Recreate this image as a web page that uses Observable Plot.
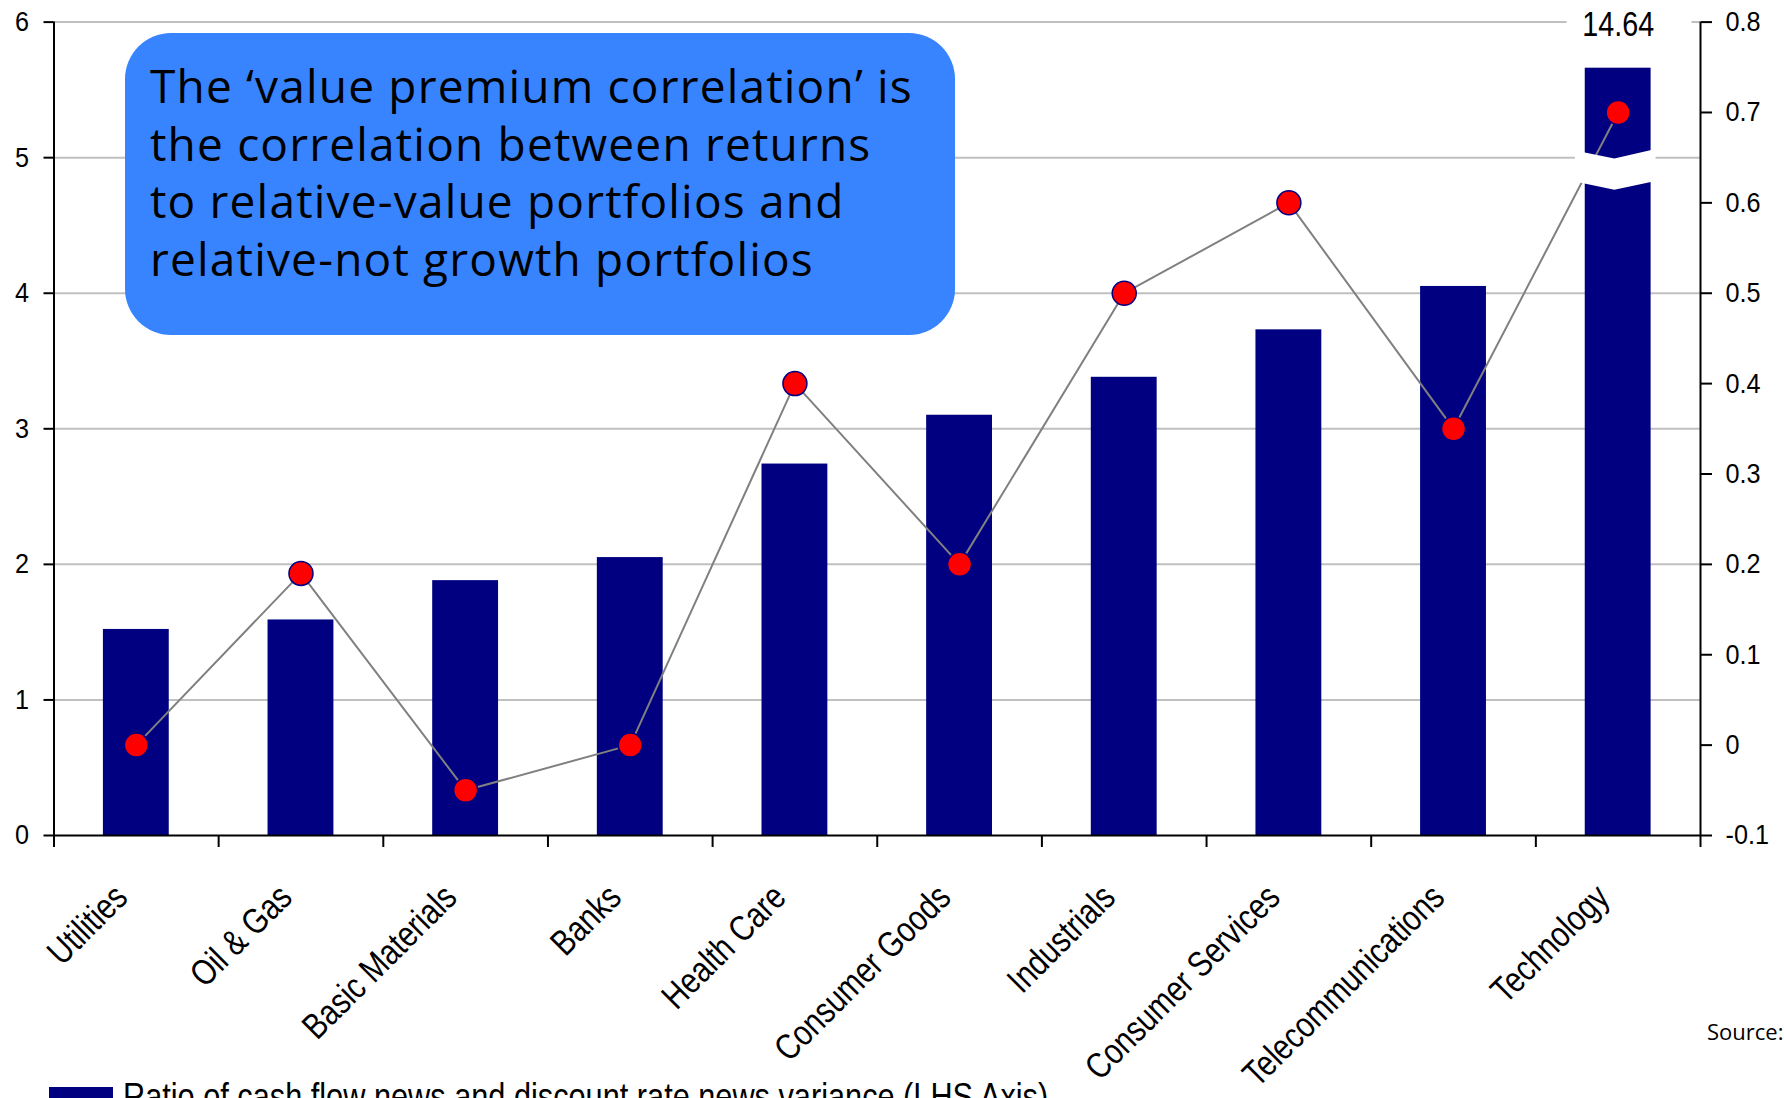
<!DOCTYPE html>
<html>
<head>
<meta charset="utf-8">
<script src="https://cdn.jsdelivr.net/npm/d3@7"></script>
<script src="https://cdn.jsdelivr.net/npm/@observablehq/plot@0.6"></script>
<style>
  html, body { margin: 0; padding: 0; background: #fff; width: 1784px; height: 1098px; overflow: hidden; }
  #wrap { position: relative; width: 1784px; height: 1098px; }
  #chart { position: absolute; left: 0; top: 0; }
  #note { position: absolute; left: 125px; top: 33px; width: 830px; height: 302px; background: #3884ff; border-radius: 46px; box-sizing: border-box; padding: 24px 0 0 25px; font-family: "Open Sans", "Noto Sans", sans-serif; font-size: 46px; line-height: 57.5px; color: #000; white-space: nowrap; }
  #legend { position: absolute; left: 49px; top: 1078px; height: 40px; }
  #legend .sw { position: absolute; left: 0; top: 9px; width: 64px; height: 24px; background: #000080; }
  #legend .lab { position: absolute; left: 74px; top: 0; font-family: "Liberation Sans", Arial, sans-serif; font-size: 37px; line-height: 37px; color: #000; white-space: nowrap; transform-origin: 0 0; }
  #source { position: absolute; left: 1707px; top: 1020px; font-family: "Open Sans", "Noto Sans", sans-serif; font-size: 22px; line-height: 22px; white-space: nowrap; color: #000; }
</style>
</head>
<body>
<div id="wrap">
  <div id="chart"></div>
  <div id="note"></div>
  <div id="legend"><div class="sw"></div><div class="lab"></div></div>
  <div id="source">Source:</div>
</div>
<script>
// ---- data ----
const categories = ["Utilities", "Oil & Gas", "Basic Materials", "Banks", "Health Care",
  "Consumer Goods", "Industrials", "Consumer Services", "Telecommunications", "Technology"];
// Ratio of cash flow news and discount rate news variance (LHS axis)
const varianceRatio = [1.52, 1.59, 1.88, 2.05, 2.74, 3.10, 3.38, 3.73, 4.05, 14.64];
// Value premium correlation (RHS axis)
const valuePremiumCorr = [0.0, 0.19, -0.05, 0.0, 0.40, 0.20, 0.50, 0.60, 0.35, 0.70];
const lhsTicks = [0, 1, 2, 3, 4, 5, 6];
const rhsTicks = [-0.1, 0, 0.1, 0.2, 0.3, 0.4, 0.5, 0.6, 0.7, 0.8];
const legendLabel = "Ratio of cash flow news and discount rate news variance (LHS Axis)";
const noteLines = [
  "The \u2018value premium correlation\u2019 is",
  "the correlation between returns",
  "to relative-value portfolios and",
  "relative-not growth portfolios"
];

// ---- dual axis mapping ----
const LHS_MIN = 0, LHS_MAX = 6, RHS_MIN = -0.1, RHS_MAX = 0.8;
const toLhs = v => LHS_MIN + (v - RHS_MIN) / (RHS_MAX - RHS_MIN) * (LHS_MAX - LHS_MIN);
const fromLhs = y => RHS_MIN + (y - LHS_MIN) / (LHS_MAX - LHS_MIN) * (RHS_MAX - RHS_MIN);

// broken-bar display settings (style)
const BAR_CAP = 5.66;
const BAR_HALF = 0.2;             // half bar width as fraction of category slot
const BREAK_X = [0.24, 0.48, 0.73];
const BREAK_TOP = [5.05, 4.99, 5.06];
const BREAK_BOT = [4.82, 4.76, 4.825];
const LABEL_GAP = [0.19, 0.948];  // white gap in top gridline behind the value label
const NARROW = 0.82;              // horizontal compression emulating a condensed face
const NARROW_TICKS = 0.9;

const rows = categories.map((c, i) => ({
  c, i, pos: i + 0.5,
  ratio: varianceRatio[i],
  shown: Math.min(varianceRatio[i], BAR_CAP),
  corr: valuePremiumCorr[i],
  corrL: toLhs(valuePremiumCorr[i])
}));
const broken = rows.filter(d => d.ratio > BAR_CAP);
const breakShape = broken.flatMap(d => BREAK_X.map((f, k) => ({x: d.i + f, y1: BREAK_BOT[k], y2: BREAK_TOP[k], i: d.i})));
const boundaries = d3.range(0, categories.length + 1);

const NAVY = "#000080";

const chart = Plot.plot({
  width: 1784,
  height: 1098,
  marginLeft: 53.5,
  marginRight: 84,
  marginTop: 21.6,
  marginBottom: 263,
  style: {fontFamily: "'Liberation Sans', Arial, sans-serif", fontSize: "28px", color: "#000", background: "transparent", overflow: "visible"},
  x: {type: "linear", domain: [0, categories.length]},
  y: {domain: [LHS_MIN, LHS_MAX]},
  marks: [
    Plot.gridY(lhsTicks.filter(t => t > 0), {stroke: "#c0c0c0", strokeOpacity: 1, strokeWidth: 2}),
    Plot.rect(rows, {x1: d => d.pos - BAR_HALF, x2: d => d.pos + BAR_HALF, y1: () => 0, y2: "shown", fill: NAVY}),
    Plot.line(rows, {x: "pos", y: "corrL", stroke: "#808080", strokeWidth: 2}),
    Plot.areaY(breakShape, {x: "x", y1: "y1", y2: "y2", z: "i", fill: "white", curve: "linear"}),
    Plot.ruleY(broken, {y: () => LHS_MAX, x1: d => d.i + LABEL_GAP[0], x2: d => d.i + LABEL_GAP[1], stroke: "white", strokeWidth: 5}),
    Plot.text(broken, {x: "pos", y: () => LHS_MAX, text: d => d3.format(".2f")(d.ratio), fontSize: 35,
      textAnchor: "middle", lineAnchor: "middle", dy: 3, stroke: "white", strokeWidth: 8, fill: "black"}),
    Plot.ruleX([0, categories.length], {stroke: "black", strokeWidth: 2}),
    Plot.ruleY([LHS_MIN], {stroke: "black", strokeWidth: 2}),
    Plot.axisY(lhsTicks, {anchor: "left", tickSize: 10, tickPadding: 15, strokeWidth: 2, label: null, tickFormat: d => String(d)}),
    Plot.axisY(rhsTicks.map(toLhs), {anchor: "right", tickSize: 11, tickPadding: 14, strokeWidth: 2, label: null,
      tickFormat: d => String(+fromLhs(d).toFixed(1))}),
    Plot.axisX(boundaries, {anchor: "bottom", tickSize: 12, strokeWidth: 2, label: null, tickFormat: () => ""}),
    Plot.text(rows, {x: "pos", text: "c", frameAnchor: "bottom", rotate: -45, textAnchor: "end", lineAnchor: "bottom",
      dx: -7, dy: 64, fontSize: 36}),
    Plot.dot(rows, {x: "pos", y: "corrL", r: 12, fill: "#ff0000", stroke: NAVY, strokeWidth: 1.5})
  ]
});
document.getElementById("chart").appendChild(chart);

// condense SVG texts horizontally
function condense() {
  chart.querySelectorAll("text").forEach(t => {
    if (!t.textContent) return;
    const g = t.closest("g[aria-label]");
    const isTick = g && /y-axis tick label/.test(g.getAttribute("aria-label"));
    const k = isTick ? NARROW_TICKS : NARROW;
    t.removeAttribute("textLength");
    const w = t.getComputedTextLength();
    if (w > 0) {
      t.setAttribute("textLength", (w * k).toFixed(2));
      t.setAttribute("lengthAdjust", "spacingAndGlyphs");
    }
  });
}

const lab = document.querySelector("#legend .lab");
lab.textContent = legendLabel;
lab.style.transform = "scaleX(0.83)";

const note = document.getElementById("note");
note.innerHTML = noteLines.map(l => `<div class="ln">${l}</div>`).join("");
function fitNote() {
  const first = note.querySelector(".ln");
  const span = document.createElement("span");
  span.textContent = noteLines[0];
  first.textContent = "";
  first.appendChild(span);
  note.style.letterSpacing = "0px";
  const w = span.getBoundingClientRect().width;
  const ls = (763 - w) / noteLines[0].length;
  note.style.letterSpacing = ls.toFixed(2) + "px";
}
condense();
fitNote();
if (document.fonts && document.fonts.ready) document.fonts.ready.then(() => { condense(); fitNote(); });
</script>
</body>
</html>
